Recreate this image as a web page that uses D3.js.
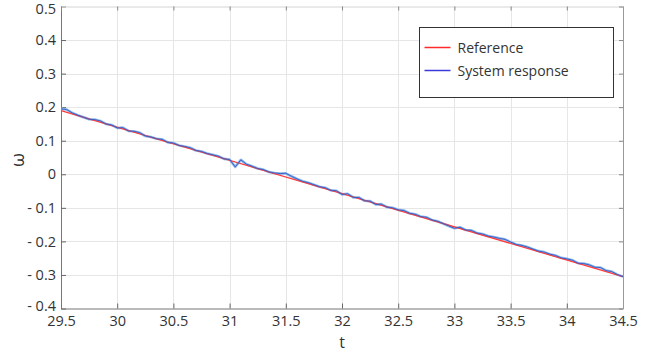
<!DOCTYPE html>
<html>
<head>
<meta charset="utf-8">
<script src="https://cdn.jsdelivr.net/npm/d3@7"></script>
<style>
	body { margin: 0; background: #fff; }
	text { font-family: "Open Sans", "Noto Sans", sans-serif; fill: #333; }
</style>
</head>
<body>
<div id="chart"></div>
<script>
// reference signal (straight line)
var refT = [29.5, 34.5];
var refW = [0.19, -0.305];

// measured system response
var sysT = [29.50, 29.55, 29.60, 29.65, 29.70, 29.75, 29.80, 29.85, 29.90, 29.95,
	30.00, 30.05, 30.10, 30.15, 30.20, 30.25, 30.30, 30.35, 30.40, 30.45,
	30.50, 30.55, 30.60, 30.65, 30.70, 30.75, 30.80, 30.85, 30.90, 30.95,
	31.00, 31.05, 31.10, 31.15, 31.20, 31.25, 31.30, 31.35, 31.40, 31.45,
	31.50, 31.55, 31.60, 31.65, 31.70, 31.75, 31.80, 31.85, 31.90, 31.95,
	32.00, 32.05, 32.10, 32.15, 32.20, 32.25, 32.30, 32.35, 32.40, 32.45,
	32.50, 32.55, 32.60, 32.65, 32.70, 32.75, 32.80, 32.85, 32.90, 32.95,
	33.00, 33.05, 33.10, 33.15, 33.20, 33.25, 33.30, 33.35, 33.40, 33.45,
	33.50, 33.55, 33.60, 33.65, 33.70, 33.75, 33.80, 33.85, 33.90, 33.95,
	34.00, 34.05, 34.10, 34.15, 34.20, 34.25, 34.30, 34.35, 34.40, 34.45, 34.50];
var sysW = [0.195, 0.193, 0.183, 0.176, 0.170, 0.164, 0.163, 0.159, 0.150, 0.147,
	0.138, 0.139, 0.129, 0.128, 0.124, 0.114, 0.111, 0.106, 0.104, 0.095,
	0.093, 0.086, 0.083, 0.079, 0.071, 0.068, 0.062, 0.058, 0.054, 0.046,
	0.044, 0.022, 0.043, 0.030, 0.024, 0.017, 0.014, 0.007, 0.004, 0.002,
	0.003, -0.006, -0.014, -0.021, -0.025, -0.031, -0.037, -0.040, -0.048, -0.049,
	-0.060, -0.058, -0.069, -0.069, -0.079, -0.080, -0.090, -0.089, -0.098, -0.100,
	-0.106, -0.108, -0.116, -0.119, -0.126, -0.128, -0.136, -0.140, -0.147, -0.154,
	-0.161, -0.158, -0.166, -0.167, -0.175, -0.178, -0.184, -0.187, -0.191, -0.194,
	-0.202, -0.209, -0.212, -0.217, -0.223, -0.229, -0.232, -0.238, -0.242, -0.249,
	-0.252, -0.256, -0.265, -0.266, -0.270, -0.277, -0.278, -0.287, -0.290, -0.299, -0.305];

var xTicks = [29.5, 30, 30.5, 31, 31.5, 32, 32.5, 33, 33.5, 34, 34.5];
var yTicks = [0.5, 0.4, 0.3, 0.2, 0.1, 0, -0.1, -0.2, -0.3, -0.4];
var seriesNames = ['Reference', 'System response'];

var W = 646, H = 352;
var pLeft = 61, pRight = 623, pTop = 6.5, pBottom = 308.5;

var svg = d3.select('#chart').append('svg').attr('width', W).attr('height', H);

var x = d3.scaleLinear().domain([29.5, 34.5]).range([pLeft, pRight]);
var y = d3.scaleLinear().domain([-0.4, 0.5]).range([pBottom, pTop]);

// grid
svg.append('g').selectAll('line').data(xTicks.slice(1, -1)).enter().append('line')
	.attr('x1', function(d) { return Math.round(x(d)) + 0.5; })
	.attr('x2', function(d) { return Math.round(x(d)) + 0.5; })
	.attr('y1', pTop).attr('y2', pBottom)
	.attr('stroke', '#e6e6e6');
svg.append('g').selectAll('line').data(yTicks.slice(1, -1)).enter().append('line')
	.attr('y1', function(d) { return Math.round(y(d)) + 0.5; })
	.attr('y2', function(d) { return Math.round(y(d)) + 0.5; })
	.attr('x1', pLeft).attr('x2', pRight)
	.attr('stroke', '#e6e6e6');

function fmtY(d) {
	if (d === 0) return '0';
	return d < 0 ? '- ' + Math.abs(d) : String(d);
}

var xAxis = d3.axisBottom(x).tickValues(xTicks).tickSize(-5).tickPadding(7).tickFormat(d3.format('')).tickSizeOuter(0);
var yAxis = d3.axisLeft(y).tickValues(yTicks).tickSize(-5).tickPadding(5).tickFormat(fmtY).tickSizeOuter(0);

var gx = svg.append('g').attr('transform', 'translate(0,' + pBottom + ')').call(xAxis);
var gy = svg.append('g').attr('transform', 'translate(' + pLeft + ',0)').call(yAxis);

// top and right box edges
svg.append('g').attr('transform', 'translate(0,' + pTop + ')')
	.call(d3.axisTop(x).tickValues(xTicks).tickSize(-4).tickFormat('').tickSizeOuter(0))
	.call(function(g) { g.select('.domain').attr('stroke', '#d4d4d4'); g.selectAll('.tick line').attr('stroke', '#888'); });
svg.append('g').attr('transform', 'translate(' + pRight + ',0)')
	.call(d3.axisRight(y).tickValues(yTicks).tickSize(-4).tickFormat('').tickSizeOuter(0))
	.call(function(g) { g.select('.domain').attr('stroke', '#999'); g.selectAll('.tick line').attr('stroke', '#888'); });

[gx, gy].forEach(function(g) {
	g.select('.domain').attr('stroke', '#777');
	g.selectAll('.tick line').attr('stroke', '#666');
	g.selectAll('.tick text').attr('font-size', 14.5).style('fill', '#333')
		.attr('font-family', '"Open Sans", "Noto Sans", sans-serif');
});
// end labels nudged inward, as in the original
gy.selectAll('.tick text').filter(function(d) { return d === 0.5; }).attr('dy', '0.5em');
gy.selectAll('.tick text').filter(function(d) { return d === -0.4; }).attr('dy', '0.12em');

// axis labels
svg.append('text').attr('x', x(32)).attr('y', 348).attr('text-anchor', 'middle')
	.attr('font-size', 16).text('t');
svg.append('text').attr('transform', 'translate(24,160) rotate(-90)').attr('text-anchor', 'middle')
	.attr('font-size', 18).text('ω');

// lines
var refData = refT.map(function(t, i) { return [t, refW[i]]; });
var sysData = sysT.map(function(t, i) { return [t, sysW[i]]; });
var line = d3.line().x(function(d) { return x(d[0]); }).y(function(d) { return y(d[1]); });

svg.append('path').attr('d', line(sysData)).attr('fill', 'none')
	.attr('stroke', '#8fbbea').attr('stroke-width', 2.6).attr('stroke-linejoin', 'round');
svg.append('path').attr('d', line(refData)).attr('fill', 'none')
	.attr('stroke', '#ff3b3b').attr('stroke-width', 1.3);
svg.append('path').attr('d', line(sysData)).attr('fill', 'none')
	.attr('stroke', '#3a5fc8').attr('stroke-width', 1).attr('stroke-linejoin', 'round');

// legend
var lg = svg.append('g').attr('transform', 'translate(419.5,27.5)');
lg.append('rect').attr('width', 194).attr('height', 70)
	.attr('fill', '#fff').attr('stroke', '#333').attr('stroke-width', 1);
var legendColors = ['#ff2a2a', '#3a3ad8'];
seriesNames.forEach(function(name, i) {
	var yy = 20 + i * 23;
	lg.append('line').attr('x1', 5).attr('x2', 31).attr('y1', yy).attr('y2', yy)
		.attr('stroke', legendColors[i]).attr('stroke-width', 1.5);
	lg.append('text').attr('x', 38).attr('y', yy + 5).attr('font-size', 14).text(name);
});
</script>
</body>
</html>
